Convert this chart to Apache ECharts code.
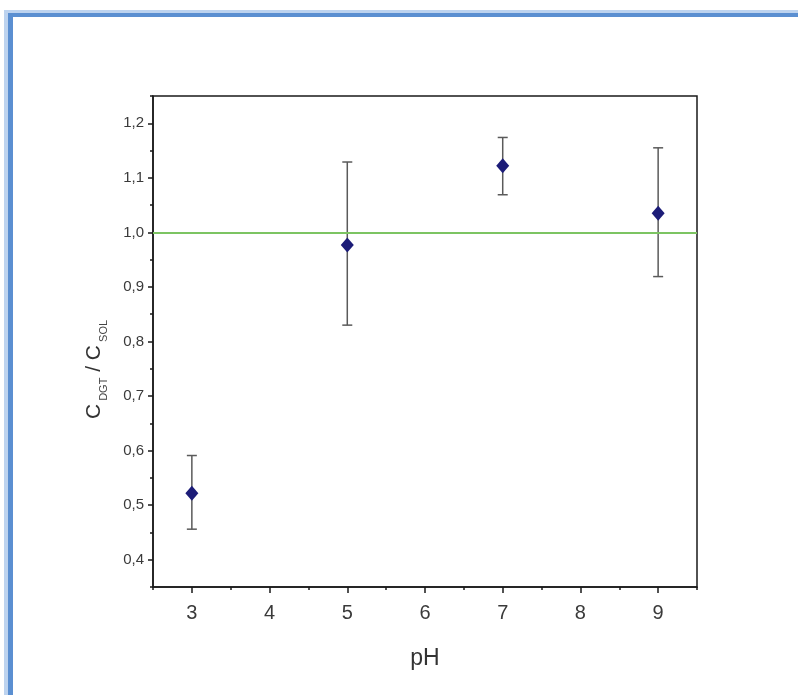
<!DOCTYPE html>
<html>
<head>
<meta charset="utf-8">
<script src="https://cdn.jsdelivr.net/npm/echarts@6/dist/echarts.min.js"></script>
<style>
	body { margin: 0; background: #fff; }
	#wrap { position: relative; width: 798px; height: 695px; overflow: hidden; }
	#cpChart { position: absolute; left: 0; top: 0; width: 798px; height: 695px; }
	.frame { position: absolute; right: -20px; bottom: -20px; pointer-events: none; }
	#frameOuter { left: 4px; top: 10px; border-top: 3px solid #bdd3ef; border-left: 4px solid #bdd3ef; }
	#frameInner { left: 8px; top: 13px; border-top: 4px solid #5b8fd1; border-left: 5px solid #5b8fd1; }
</style>
</head>
<body>
<div id="wrap">
	<div id="cpChart"></div>
	<div class="frame" id="frameOuter"></div>
	<div class="frame" id="frameInner"></div>
</div>
<script>
// --- data ------------------------------------------------------------
var phValues  = [3, 5, 7, 9];
var meanRatio = [0.522, 0.977, 1.122, 1.035];
var lowRatio  = [0.456, 0.830, 1.069, 0.919];
var highRatio = [0.591, 1.129, 1.174, 1.155];
var refLine = 1.0;

var xTicks = [3, 4, 5, 6, 7, 8, 9];
var xMinorTicks = [2.5, 3.5, 4.5, 5.5, 6.5, 7.5, 8.5, 9.5];
var yTicks = [0.4, 0.5, 0.6, 0.7, 0.8, 0.9, 1.0, 1.1, 1.2];
var yMinorTicks = [0.35, 0.45, 0.55, 0.65, 0.75, 0.85, 0.95, 1.05, 1.15, 1.25];

// build point lists from the arrays
var points = [];
var bars = [];
for (var i = 0; i < phValues.length; i++) {
	points.push([phValues[i], meanRatio[i]]);
	bars.push([phValues[i], lowRatio[i], highRatio[i]]);
}

function renderErrorBar(params, api) {
	var top = api.coord([api.value(0), api.value(2)]);
	var bottom = api.coord([api.value(0), api.value(1)]);
	var half = 5;
	var style = { stroke: '#5a5a5a', lineWidth: 1.5 };
	return {
		type: 'group',
		children: [
			{ type: 'line', shape: { x1: top[0], y1: top[1], x2: bottom[0], y2: bottom[1] }, style: style },
			{ type: 'line', shape: { x1: top[0] - half, y1: top[1], x2: top[0] + half, y2: top[1] }, style: style },
			{ type: 'line', shape: { x1: bottom[0] - half, y1: bottom[1], x2: bottom[0] + half, y2: bottom[1] }, style: style }
		]
	};
}

var eChart = echarts.init(document.getElementById('cpChart'));

var axisFont = 'Liberation Sans, Arial, sans-serif';

var eChartOption = {
	backgroundColor: 'transparent',
	animation: false,
	grid: {
		left: 153,
		right: 101,
		top: 96,
		bottom: 108,
		show: true,
		borderColor: '#1a1a1a',
		borderWidth: 1.5
	},
	xAxis: [
		{
			type: 'value',
			min: 2.5,
			max: 9.5,
			name: 'pH',
			nameLocation: 'middle',
			nameGap: 60,
			nameTextStyle: { fontFamily: axisFont, fontSize: 23, color: '#333' },
			splitLine: { show: false },
			axisLine: { lineStyle: { color: '#1a1a1a', width: 1.5 } },
			axisTick: { show: true, customValues: xTicks, length: 6, lineStyle: { color: '#1a1a1a', width: 1.5 } },
			axisLabel: {
				customValues: xTicks,
				margin: 16,
				fontFamily: axisFont,
				fontSize: 20,
				color: '#3a3a3a'
			}
		},
		{
			type: 'value',
			min: 2.5,
			max: 9.5,
			position: 'bottom',
			splitLine: { show: false },
			axisLine: { show: false },
			axisTick: { show: true, customValues: xMinorTicks, length: 3, lineStyle: { color: '#1a1a1a', width: 1.5 } },
			axisLabel: { show: false }
		}
	],
	yAxis: [
		{
			type: 'value',
			min: 0.35,
			max: 1.25,
			name: '{c|C}{s| DGT}{c| / C}{s| SOL}',
			nameLocation: 'middle',
			nameRotate: 90,
			nameGap: 44,
			nameTextStyle: {
				padding: [0, 56, 0, 0],
				rich: {
					c: { fontFamily: axisFont, fontSize: 21, color: '#333', lineHeight: 30, verticalAlign: 'middle' },
					s: { fontFamily: axisFont, fontSize: 11, color: '#444', lineHeight: 11, verticalAlign: 'bottom' }
				}
			},
			splitLine: { show: false },
			axisLine: { lineStyle: { color: '#1a1a1a', width: 1.5 } },
			axisTick: { show: true, customValues: yTicks, length: 5, lineStyle: { color: '#1a1a1a', width: 1.5 } },
			axisLabel: {
				customValues: yTicks,
				margin: 9,
				fontFamily: axisFont,
				fontSize: 15,
				color: '#3a3a3a',
				formatter: function (v) {
					return v.toFixed(1).replace('.', ',');
				}
			}
		},
		{
			type: 'value',
			min: 0.35,
			max: 1.25,
			position: 'left',
			splitLine: { show: false },
			axisLine: { show: false },
			axisTick: { show: true, customValues: yMinorTicks, length: 3, lineStyle: { color: '#1a1a1a', width: 1.5 } },
			axisLabel: { show: false }
		}
	],
	series: [
		{
			name: 'error',
			type: 'custom',
			xAxisIndex: 0,
			yAxisIndex: 0,
			renderItem: renderErrorBar,
			encode: { x: 0, y: [1, 2] },
			data: bars,
			z: 2
		},
		{
			name: 'ratio',
			type: 'scatter',
			xAxisIndex: 0,
			yAxisIndex: 0,
			symbol: 'diamond',
			symbolSize: [13, 15],
			itemStyle: { color: '#1c1c78', opacity: 1 },
			data: points,
			z: 4,
			markLine: {
				silent: true,
				symbol: 'none',
				label: { show: false },
				lineStyle: { color: '#7cc462', width: 2, type: 'solid' },
				data: [{ yAxis: refLine }]
			}
		}
	]
};

eChart.setOption(eChartOption);
</script>
</body>
</html>
